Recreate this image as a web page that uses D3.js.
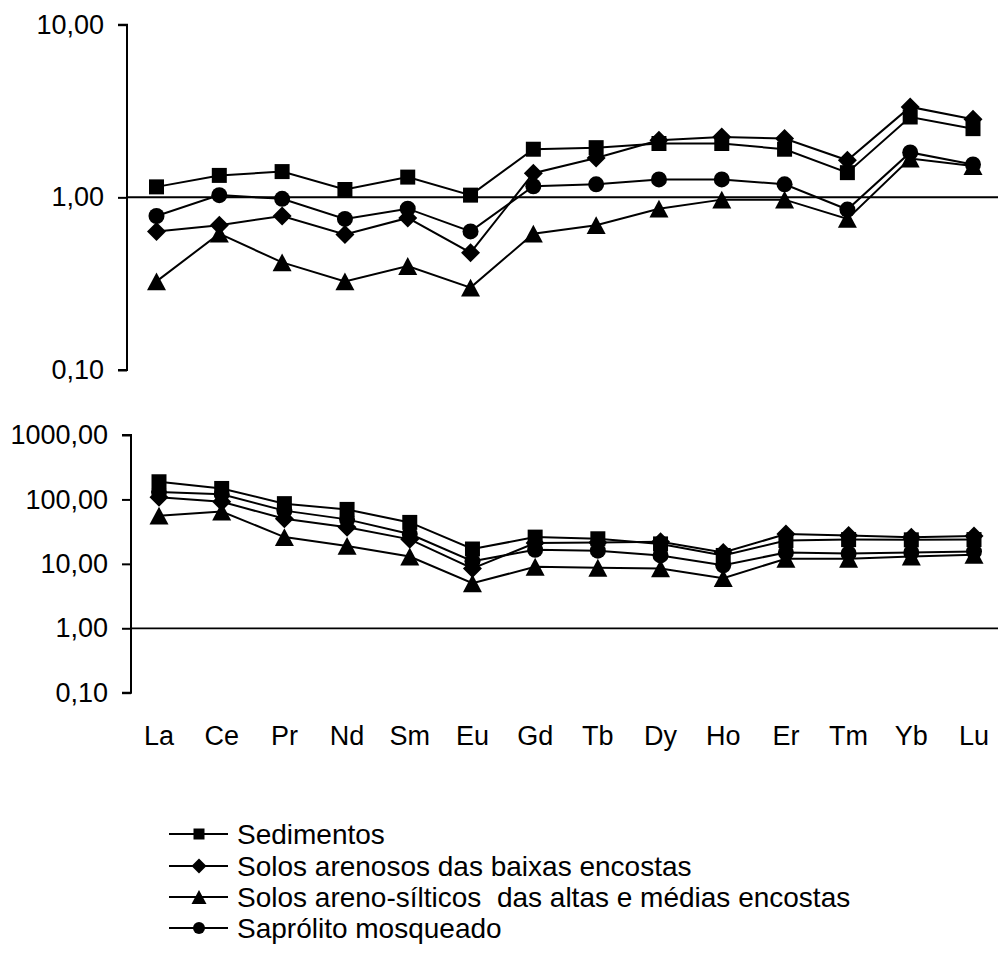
<!DOCTYPE html>
<html><head><meta charset="utf-8">
<script src="https://cdn.jsdelivr.net/npm/d3@7"></script>
<style>body{margin:0;background:#fff}svg{display:block}text{font-family:"Liberation Sans",Arial,sans-serif;fill:#000;white-space:pre}</style>
</head><body><div id="chart"></div>
<script>
const categories = ["La","Ce","Pr","Nd","Sm","Eu","Gd","Tb","Dy","Ho","Er","Tm","Yb","Lu"];
const seriesNames = ["Sedimentos","Solos arenosos das baixas encostas","Solos areno-sílticos  das altas e médias encostas","Saprólito mosqueado"];
const seriesShapes = ["square","diamond","triangle","circle"];
// Top chart (normalised values)
const topSedimentos = [1.15,1.34,1.41,1.11,1.31,1.03,1.90,1.94,2.05,2.05,1.90,1.39,2.92,2.50];
const topArenosos   = [0.635,0.69,0.78,0.61,0.76,0.478,1.38,1.69,2.14,2.24,2.19,1.64,3.34,2.83];
const topArenoSilt  = [0.326,0.616,0.42,0.326,0.40,0.30,0.616,0.69,0.86,0.97,0.97,0.75,1.68,1.52];
const topSaprolito  = [0.78,1.03,0.98,0.75,0.86,0.635,1.16,1.19,1.27,1.27,1.19,0.85,1.82,1.55];
const topTicks = [0.1,1,10];
// Bottom chart (chondrite-normalised values)
const botSedimentos = [188,148,86,70,44,17,26,24.5,20.4,13.5,23,23.8,23.6,23.8];
const botArenosos   = [108,92,50,37,24,8.5,21,21.5,22,15,29,27.5,25.9,27];
const botArenoSilt  = [56,65,26,19,13,5,9,8.7,8.5,6,12,12,13,13.8];
const botSaprolito  = [130,120,67,49,29,11,16.5,16,13.5,9.5,15,14.5,15,15.5];
const botTicks = [0.1,1,10,100,1000];

const W = 998, H = 960;
const svg = d3.select("#chart").append("svg").attr("width", W).attr("height", H);
const fmt = v => d3.format(".2f")(v).replace(".", ",");

// custom marker types for d3.symbol (size = width in px)
const shapes = {
  square: {draw(c, s){ const h=s/2; c.rect(-h,-h,s,s); }},
  diamond:{draw(c, s){ const h=s/2; c.moveTo(0,-h); c.lineTo(h,0); c.lineTo(0,h); c.lineTo(-h,0); c.closePath(); }},
  triangle:{draw(c, s){ const h=s/2, v=s*0.47; c.moveTo(0,-v); c.lineTo(h,v); c.lineTo(-h,v); c.closePath(); }},
  circle: {draw(c, s){ const r=s/2; c.moveTo(r,0); c.arc(0,0,r,0,2*Math.PI); }}
};
const mainSizes = {square:15, diamond:19, triangle:19, circle:16};
const legSizes  = {square:11, diamond:15, triangle:15, circle:12};

function panel(cfg){
  const x = d3.scalePoint().domain(categories).range(cfg.xr);
  const y = d3.scaleLog().domain(cfg.domain).range(cfg.yr);
  const g = svg.append("g");
  const ax = d3.axisLeft(y).tickValues(cfg.ticks).tickFormat(fmt).tickSize(9).tickPadding(14);
  const ag = g.append("g").attr("transform", `translate(${cfg.axisX},0)`).call(ax);
  ag.attr("font-family",null).attr("font-size",null);
  ag.select(".domain").attr("stroke","#000").attr("stroke-width",2).attr("d", `M-9,${cfg.yr[1]}H0V${cfg.yr[0]}H-9`);
  ag.selectAll(".tick line").attr("stroke","#000").attr("stroke-width",2);
  ag.selectAll(".tick text").attr("font-size",27).attr("fill","#000");
  g.append("line").attr("x1",cfg.axisX).attr("x2",W).attr("y1",y(1)).attr("y2",y(1))
    .attr("stroke","#000").attr("stroke-width",cfg.refW);
  const line = d3.line().x((d,i)=>x(categories[i])).y(d=>y(d));
  cfg.series.forEach(vals => {
    g.append("path").attr("d", line(vals)).attr("fill","none").attr("stroke","#000").attr("stroke-width",2);
  });
  cfg.series.forEach((vals, si) => {
    const sh = seriesShapes[si];
    g.selectAll(null).data(vals).join("path")
      .attr("transform",(d,i)=>`translate(${x(categories[i])},${y(d)})`)
      .attr("d", d3.symbol(shapes[sh], mainSizes[sh])())
      .attr("fill","#000");
  });
  return x;
}

panel({xr:[156.5,973], yr:[370,24.7], domain:[0.1,10], ticks:topTicks, axisX:127, refW:2,
  series:[topSedimentos, topArenosos, topArenoSilt, topSaprolito]});
const xb = panel({xr:[159,974], yr:[692.7,435], domain:[0.1,1000], ticks:botTicks, axisX:131, refW:1.8,
  series:[botSedimentos, botArenosos, botArenoSilt, botSaprolito]});

svg.append("g").selectAll("text").data(categories).join("text")
  .attr("x", d=>xb(d)).attr("y", 745).attr("text-anchor","middle").attr("font-size",27).text(d=>d);

const leg = svg.append("g");
const rowY = [834, 866, 897, 928];
seriesNames.forEach((name, i) => {
  const yy = rowY[i], sh = seriesShapes[i];
  leg.append("line").attr("x1",169).attr("x2",228).attr("y1",yy).attr("y2",yy).attr("stroke","#000").attr("stroke-width",2);
  leg.append("path").attr("transform",`translate(199,${yy})`).attr("d", d3.symbol(shapes[sh], legSizes[sh])()).attr("fill","#000");
  leg.append("text").attr("x",237).attr("y",yy+10).attr("font-size",28).text(name);
});
</script>
</body></html>
